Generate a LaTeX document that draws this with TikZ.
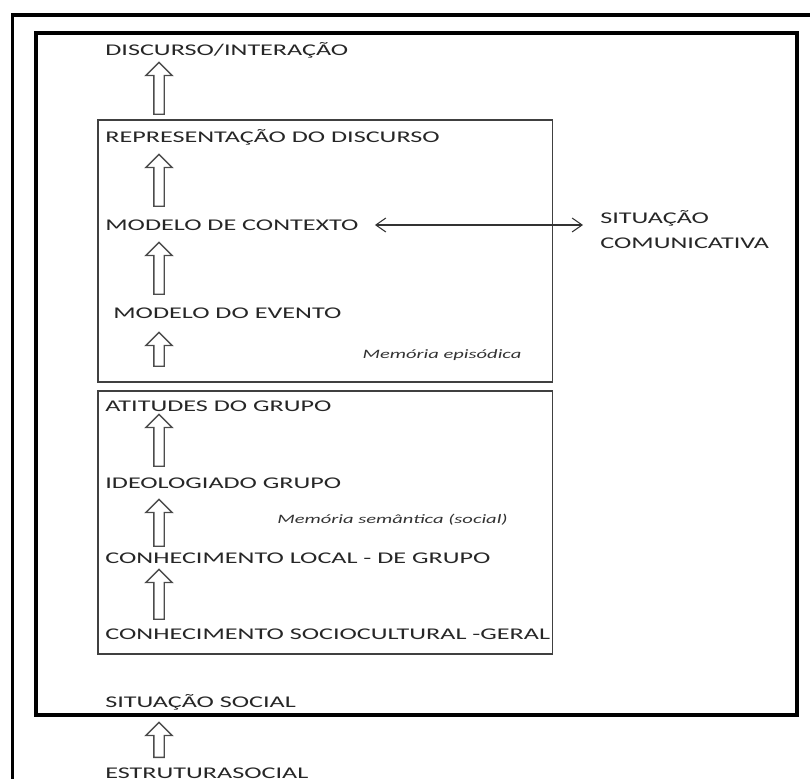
\documentclass[tikz,border=0pt]{standalone}
\usepackage{fontspec}
\setmainfont[FakeStretch=1.6]{Carlito}
\usetikzlibrary{shapes.arrows,arrows.meta}

\begin{document}
\begin{tikzpicture}[
    stage/.style={anchor=west,inner sep=0pt,align=left,font=\fontsize{9.3}{14.2}\selectfont,text=black!85},
    memnote/.style={inner sep=0pt,font=\fontsize{7.3}{9}\selectfont\itshape,text=black!80},
    outerframe/.style={line width=2pt,black},
    memorybox/.style={line width=0.9pt,black!75},
    uparrow/.style={single arrow,draw=black!70,line width=0.8pt,fill=white,shape border rotate=90,single arrow head extend=0.16cm,inner sep=0.09cm,anchor=tail},
    biarrow/.style={{Straight Barb[length=0.2cm,width=0.28cm]}-{Straight Barb[length=0.2cm,width=0.28cm]},black!80,line width=0.6pt}
]
\useasboundingbox (0,0) rectangle (16.2,15.56);
\clip (0,0) rectangle (16.2,15.56);

% Frames
\draw[outerframe] (16.6,15.26) -- (0.25,15.26) -- (0.25,-0.4);
\draw[outerframe] (0.72,1.26) rectangle (15.94,14.9);

% Memory boxes
\draw[memorybox] (1.96,7.92) rectangle (11.05,13.16);
\draw[memorybox] (1.96,2.48) rectangle (11.05,7.74);

% Levels
\node[stage] (discurso) at (2.1,14.56) {DISCURSO/INTERAÇÃO};
\node[stage] (repres) at (2.1,12.82) {REPRESENTAÇÃO DO DISCURSO};
\node[stage] (contexto) at (2.1,11.06) {MODELO DE CONTEXTO};
\node[stage] (evento) at (2.26,9.30) {MODELO DO EVENTO};
\node[stage] (atitudes) at (2.1,7.44) {ATITUDES DO GRUPO};
\node[stage] (ideologia) at (2.1,5.90) {IDEOLOGIADO GRUPO};
\node[stage] (local) at (2.1,4.40) {CONHECIMENTO LOCAL - DE GRUPO};
\node[stage] (geral) at (2.1,2.88) {CONHECIMENTO SOCIOCULTURAL -GERAL};
\node[stage] (sitsocial) at (2.1,1.52) {SITUAÇÃO SOCIAL};
\node[stage] (estrutura) at (2.1,0.1) {ESTRUTURASOCIAL};
\node[stage] (sitcom) at (12,10.97) {SITUAÇÃO\\COMUNICATIVA};

% Memory labels
\node[memnote] (episodica) at (8.84,8.46) {Memória episódica};
\node[memnote] (semantica) at (7.85,5.16) {Memória semântica (social)};

% Block arrows
\foreach \yb/\len [count=\i] in {13.26/1.04,11.42/1.04,9.66/1.04,8.22/0.68,6.22/1.04,4.62/0.94,3.16/1.0,0.4/0.7} {
    \node[uparrow,minimum height=\len cm] (up\i) at (3.18,\yb) {};
}

% Context link
\draw[biarrow,shorten <=0.32cm,shorten >=0.34cm] (contexto.east) -- (contexto.east -| sitcom.west);

\end{tikzpicture}
\end{document}
